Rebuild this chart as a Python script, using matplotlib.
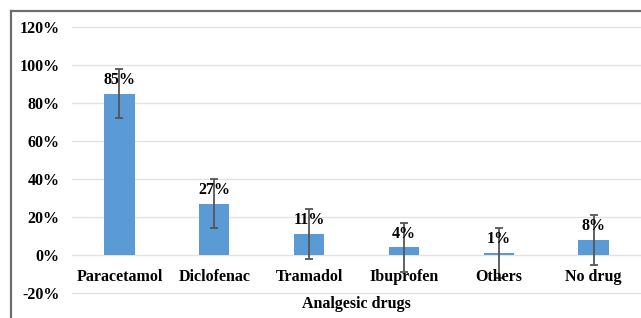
import numpy as np
import matplotlib
matplotlib.use("Agg")
import matplotlib.pyplot as plt
from matplotlib.lines import Line2D

# Analgesic drug use, percentages with error bars
drugs = ["Paracetamol", "Diclofenac", "Tramadol", "Ibuprofen", "Others", "No drug"]
percent = [85, 27, 11, 4, 1, 8]
errors = [13, 13, 13, 13, 13, 13]
yticks = [-20, 0, 20, 40, 60, 80, 100, 120]

plt.rcParams["font.family"] = ["Liberation Serif", "DejaVu Serif"]
plt.rcParams["font.weight"] = "bold"
FS = 11.5

fig = plt.figure(figsize=(6.41, 3.18), dpi=100)
ax = fig.add_axes([72 / 641, 1 - 293 / 318, 1 - 72 / 641, 266 / 318])

x = np.arange(len(drugs))
ax.bar(x, percent, width=0.32, color="#5B9BD5", zorder=2)
ax.errorbar(x, percent, yerr=errors, fmt="none", ecolor="#555555", elinewidth=1.3,
            capsize=3, capthick=1.3, zorder=3)
for xi, v in zip(x, percent):
	ax.annotate("%d%%" % v, (xi, v), xytext=(0, 10), textcoords="offset points",
	            ha="center", va="center", fontsize=FS, fontweight="bold", zorder=4)

ax.set_xlim(-0.5, len(drugs) - 0.5)
ax.set_ylim(-20, 120)
ax.set_yticks(yticks)
ax.set_yticklabels(["%d%%" % t for t in yticks], fontsize=FS, fontweight="bold")
ax.tick_params(axis="y", length=0, pad=9)
ax.set_xticks([])
for xi, name in zip(x, drugs):
	ax.text(xi, -11.5, name, ha="center", va="center", fontsize=FS, fontweight="bold")
ax.grid(axis="y", color="#e3e3e3", linewidth=1, zorder=0)
for gl in ax.get_ygridlines():
	gl.set_clip_on(False)
for s in ax.spines.values():
	s.set_visible(False)

fig.text((72 + 641) / 2 / 641, 1 - 304 / 318, "Analgesic drugs", ha="center", va="center",
         fontsize=FS, fontweight="bold")

# outer frame (only top and left visible)
fig.add_artist(Line2D([10.5 / 641, 10.5 / 641], [0, 1 - 10.5 / 318], color="#6e6e6e", linewidth=1.6,
                      transform=fig.transFigure))
fig.add_artist(Line2D([10.5 / 641, 1], [1 - 10.5 / 318, 1 - 10.5 / 318], color="#6e6e6e", linewidth=1.6,
                      transform=fig.transFigure))

fig.savefig("out.png", dpi=100)
